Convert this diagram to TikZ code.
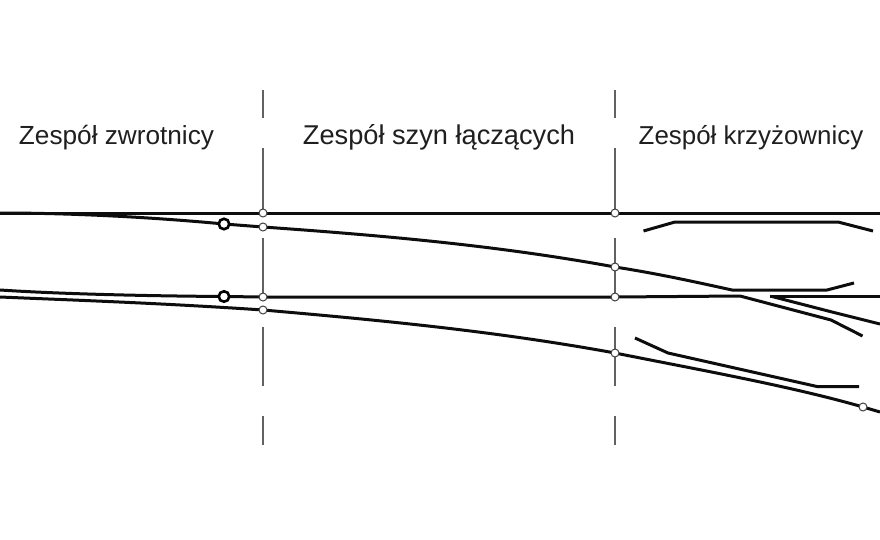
\documentclass[tikz,border=0pt]{standalone}
\usepackage{fontspec}
\setmainfont{Liberation Sans}
\tikzset{
  rail/.style={line width=3pt,black!95,line join=round},
  guide/.style={line width=1.3pt,black!62},
  jointc/.style={circle,draw=black!75,fill=white,line width=1pt,inner sep=0pt,minimum size=8pt},
  tipc/.style={circle,draw=black,fill=white,line width=2.6pt,inner sep=0pt,minimum size=10.5pt},
  lab/.style={text=black!88,inner sep=0pt,anchor=base}
}
\begin{document}
\begin{tikzpicture}[x=1pt,y=-1pt]
\useasboundingbox (0,0) rectangle (880,540);
\fill[white] (0,0) rectangle (880,540);
% guides
\foreach \x in {263,615}{
  \draw[guide] (\x,90) -- (\x,118);
  \draw[guide] (\x,148) -- (\x,213);
  \draw[guide] (\x,238) -- (\x,297);
  \draw[guide] (\x,327) -- (\x,386);
  \draw[guide] (\x,416) -- (\x,445);
}
% named way points
\coordinate (L1) at (0,213);
\coordinate (R1) at (880,213);
\coordinate (L2) at (0,290);
\coordinate (L3) at (0,297);
\coordinate (R3) at (880,412);
\coordinate (R4) at (880,296);
\coordinate (R5) at (880,324);
% rails
\draw[rail] (L1) -- (R1);
\draw[rail] (L1) .. controls (70,213) and (150,217) .. (224,224)
  -- (263,227) .. controls (390,236) and (500,246) .. (615,267)
  .. controls (660,274) and (700,283) .. (732,290) -- (827,290) -- (854,283);
\draw[rail] (L2) .. controls (60,294) and (150,296) .. (224,296.5)
  -- (263,297) -- (615,297) -- (740,296) -- (831,320) -- (862.5,336);
\draw[rail] (L3) .. controls (70,300) and (160,303) .. (263,310)
  .. controls (390,321) and (500,332) .. (615,353)
  .. controls (700,370) and (790,386) .. (863,407) -- (R3);
\draw[rail] (770,296) -- (R4);
\draw[rail] (772,296.5) -- (832,312) -- (R5);
\draw[rail] (643.5,231) -- (675,222) -- (838,222) -- (873,231);
\draw[rail] (635,338) -- (668,353) -- (817,386.5) -- (859,386.5);
% joints
\node[jointc] (a1) at (263,213) {};
\node[jointc] (a2) at (263,227) {};
\node[jointc] (a3) at (263,297) {};
\node[jointc] (a4) at (263,310) {};
\node[jointc] (b1) at (615,213) {};
\node[jointc] (b2) at (615,267) {};
\node[jointc] (b3) at (615,297) {};
\node[jointc] (b4) at (615,353) {};
\node[jointc] (c1) at (863,407) {};
\node[tipc] (t1) at (224,224) {};
\node[tipc] (t2) at (224,296.5) {};
% labels
\node[lab,font=\fontsize{26.2}{30}\selectfont] (z1) at (116.5,145) {Zespół zwrotnicy};
\node[lab,font=\fontsize{27.2}{31}\selectfont] (z2) at (439,145) {Zespół szyn łączących};
\node[lab,font=\fontsize{25.9}{30}\selectfont] (z3) at (751,145) {Zespół krzyżownicy};
\end{tikzpicture}
\end{document}
